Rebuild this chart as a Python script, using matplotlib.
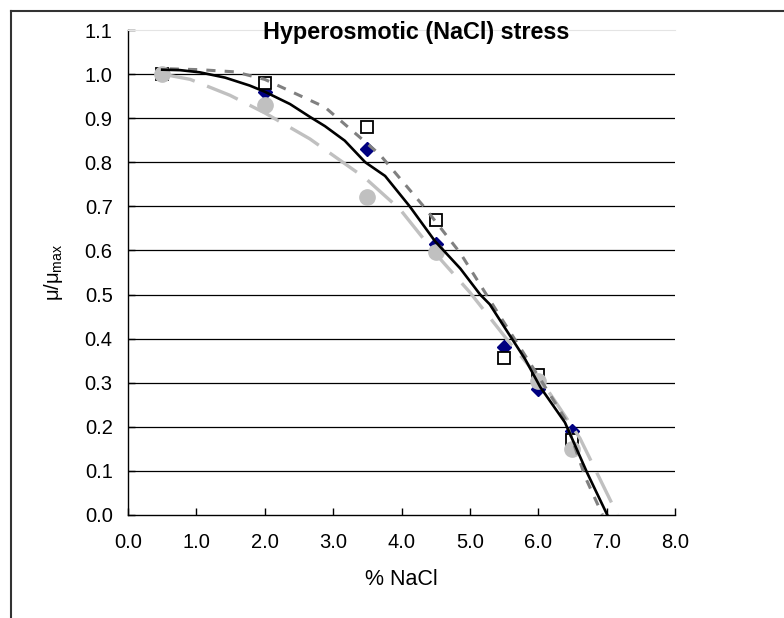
import matplotlib
matplotlib.use("Agg")
import matplotlib.pyplot as plt
from matplotlib.lines import Line2D

plt.rcParams['font.family'] = ['Liberation Sans', 'DejaVu Sans']

# measured points
nacl = [0.5, 2.0, 3.5, 4.5, 5.5, 6.0, 6.5]
diamonds = [1.0, 0.96, 0.83, 0.615, 0.38, 0.285, 0.19]
squares = [1.0, 0.98, 0.88, 0.668, 0.355, 0.318, 0.17]
circ_x = [0.5, 2.0, 3.5, 4.5, 6.0, 6.5]
circles = [1.0, 0.93, 0.722, 0.597, 0.305, 0.15]

# fitted curves
black_x = [0.5, 0.76, 1.05, 1.42, 1.78, 2.0, 2.37, 2.66, 2.88, 3.17, 3.47, 3.76, 4.12,
           4.49, 4.86, 5.15, 5.29, 5.51, 5.81, 6.03, 6.39, 6.72, 7.01]
black_y = [1.01, 1.009, 1.004, 0.992, 0.974, 0.96, 0.932, 0.903, 0.882, 0.849, 0.80, 0.769,
           0.70, 0.621, 0.559, 0.50, 0.478, 0.425, 0.353, 0.29, 0.21, 0.094, 0.0]
dgray_x = [0.61, 1.05, 1.57, 2.0, 2.88, 3.68, 4.34, 4.86, 5.44, 6.03, 6.39, 6.69, 6.94]
dgray_y = [1.012, 1.01, 1.005, 0.988, 0.925, 0.818, 0.697, 0.594, 0.451, 0.308, 0.219, 0.085, 0.0]
lgray_x = [0.5, 0.91, 1.49, 2.0, 2.66, 3.47, 3.98, 4.49, 5.0, 5.59, 6.03, 6.61, 7.16]
lgray_y = [1.0, 0.988, 0.952, 0.912, 0.853, 0.764, 0.693, 0.594, 0.505, 0.389, 0.308, 0.174, 0.0]

xticks = [0, 1, 2, 3, 4, 5, 6, 7, 8]
yticks = [0.0, 0.1, 0.2, 0.3, 0.4, 0.5, 0.6, 0.7, 0.8, 0.9, 1.0, 1.1]

fig = plt.figure(figsize=(7.84, 6.18), dpi=100)
ax = fig.add_axes([128/784, 1 - 515/618, (675-128)/784, (515-30)/618])

for y in yticks[1:-1]:
    ax.axhline(y, color='black', lw=0.9, zorder=1)

ax.plot(nacl, diamonds, linestyle='none', marker='D', ms=7, color='#000080', zorder=3)
ax.plot(nacl, squares, linestyle='none', marker='s', ms=8, mfc='white', mec='black', mew=1.3, zorder=3)
ax.plot(circ_x, circles, linestyle='none', marker='o', ms=11, color='#C0C0C0', zorder=4)

ax.plot(lgray_x, lgray_y, color='#C0C0C0', lw=2.4, dashes=(10, 4), zorder=5)
ax.plot(dgray_x, dgray_y, color='#808080', lw=2.2, dashes=(3, 3), zorder=5)
ax.plot(black_x, black_y, color='black', lw=1.9, zorder=6)

ax.set_xlim(0, 8)
ax.set_ylim(0, 1.1)
ax.set_xticks(xticks)
ax.set_xticklabels([f"{v:.1f}" for v in xticks])
ax.set_yticks(yticks)
ax.set_yticklabels([f"{v:.1f}" for v in yticks])
ax.tick_params(direction='in', length=5, width=1, labelsize=14.5)
ax.tick_params(axis='x', pad=13)
ax.tick_params(axis='y', pad=11)
ax.spines['right'].set_visible(False)
ax.spines['top'].set_color('#e4e4e4')
ax.spines['left'].set_linewidth(1)
ax.spines['bottom'].set_linewidth(1)

ax.set_xlabel('% NaCl', fontsize=15.5, labelpad=12)
ax.set_ylabel('μ/μ$_{\\mathregular{max}}$', fontsize=14.5, labelpad=14)

fig.text(416/784, 1 - 33/618, 'Hyperosmotic (NaCl) stress', ha='center', va='center',
         fontsize=16.8, fontweight='bold')

# outer border (top and left visible)
fig.add_artist(Line2D([11/784, 1.0], [1 - 11/618, 1 - 11/618], transform=fig.transFigure,
                      color='#333333', lw=1.5))
fig.add_artist(Line2D([11/784, 11/784], [0.0, 1 - 11/618], transform=fig.transFigure,
                      color='#333333', lw=1.5))

fig.savefig('out.png', dpi=100)
